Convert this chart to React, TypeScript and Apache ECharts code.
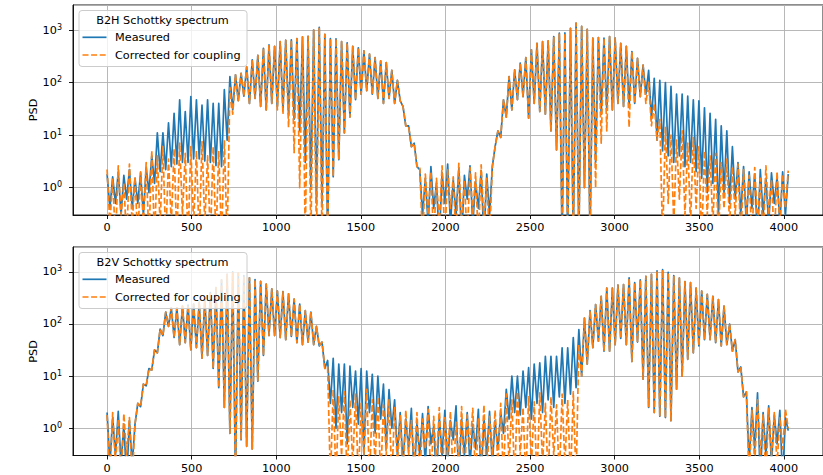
import React, { useEffect, useRef } from "react";
import * as echarts from "echarts";

// spacing (in x units) between successive read extrema
const X_STEP = 16.5;
const X_TICKS = [0, 500, 1000, 1500, 2000, 2500, 3000, 3500, 4000];
const Y_DECADES = [1, 10, 100, 1000];
const SERIES_NAMES = ["Measured", "Corrected for coupling"];
const PANEL_TITLES = ["B2H Schottky spectrum", "B2V Schottky spectrum"];
const Y_NAME = "PSD";

// B2H (top panel)
const topMeasured = [
  1.8, 0.4, 1.6, 0.5, 2.0, 0.3, 1.7, 0.6, 2.2, 0.4,
  1.5, 0.5, 1.9, 0.3, 2.4, 0.8, 4.0, 1.2, 11, 2.0,
  11, 2.2, 17, 2.5, 26, 2.8, 47, 3.0, 28, 3.0,
  54, 3.5, 47, 3.5, 37, 3.2, 47, 3.0, 40, 2.6,
  40, 2.5, 73, 8, 130, 30, 140, 45, 150, 55,
  200, 40, 270, 50, 330, 35, 450, 30, 520, 40,
  490, 35, 600, 30, 640, 25, 650, 20, 690, 12,
  740, 3, 760, 1, 1000, 0.5, 1130, 0.5, 830, 0.1,
  690, 1.6, 680, 3.4, 600, 11, 570, 22, 490, 47,
  460, 60, 400, 70, 350, 60, 300, 50, 260, 40,
  240, 50, 170, 40, 110, 45, 35, 15, 15, 6,
  7, 2.5, 2.2, 0.3, 1.5, 0.2, 2.5, 0.4, 1.2, 0.1,
  1.9, 0.5, 2.8, 0.2, 1.4, 0.3, 2.3, 0.1, 1.7, 0.6,
  2.6, 0.2, 1.3, 0.4, 2.1, 0.1, 1.8, 0.3, 2.5, 6,
  12, 9, 47, 22, 130, 30, 175, 47, 235, 54,
  300, 21, 420, 40, 560, 28, 600, 25, 620, 12,
  750, 5.2, 870, 0.1, 880, 0.1, 1080, 0.1, 1350, 0.1,
  1170, 1.0, 1030, 0.1, 700, 3, 720, 25, 700, 30,
  750, 30, 700, 40, 560, 35, 490, 35, 390, 40,
  290, 54, 215, 60, 170, 20, 120, 8, 110, 5,
  100, 4, 85, 3, 60, 4, 60, 2.5, 55, 3,
  47, 2, 45, 1.5, 33, 0.8, 26, 1.2, 20, 0.3,
  15, 0.8, 12, 0.5, 6, 0.6, 3.0, 0.3, 2.5, 0.2,
  2.0, 0.4, 1.8, 0.1, 2.2, 0.3, 1.5, 0.2, 1.9, 0.5,
  1.6, 0.2, 2.0, 0.3, 1.8,
];

const topCorrected = [
  2.2, 0.2, 1.5, 0.1, 2.6, 0.3, 1.2, 0.1, 2.8, 0.2,
  1.6, 0.1, 2.0, 0.2, 3.0, 0.1, 5, 0.1, 4, 0.2,
  6, 0.1, 3.5, 0.2, 5.5, 0.1, 7, 0.3, 4.5, 0.1,
  6, 0.2, 5, 0.1, 7.5, 0.2, 4, 0.1, 6, 0.1,
  5, 0.1, 8, 0.1, 80, 25, 140, 45, 150, 55,
  200, 40, 270, 50, 330, 35, 450, 30, 520, 40,
  490, 30, 600, 25, 640, 14, 650, 4.6, 690, 1.0,
  740, 0.1, 760, 0.1, 1000, 0.1, 1130, 0.1, 830, 0.1,
  690, 1.6, 680, 3.4, 600, 11, 570, 22, 490, 47,
  460, 60, 400, 70, 350, 60, 300, 50, 260, 40,
  240, 50, 170, 40, 110, 45, 35, 15, 15, 6,
  7, 2.5, 2.5, 0.1, 1.8, 0.3, 2.0, 0.1, 1.5, 0.2,
  2.6, 0.1, 2.2, 0.4, 1.6, 0.1, 2.9, 0.2, 1.4, 0.1,
  2.4, 0.3, 1.9, 0.1, 2.7, 0.2, 1.5, 0.1, 2.5, 6,
  12, 9, 47, 22, 130, 30, 175, 47, 235, 54,
  300, 21, 420, 40, 560, 28, 600, 25, 620, 12,
  750, 5.2, 870, 0.1, 880, 0.1, 1080, 0.1, 1350, 0.1,
  1170, 1.0, 1030, 0.1, 700, 1.0, 720, 7, 700, 12,
  750, 30, 700, 40, 560, 35, 490, 14, 390, 40,
  290, 54, 215, 40, 100, 15, 40, 8, 20, 0.1,
  14, 0.5, 10, 0.2, 8, 0.6, 12, 0.3, 7, 0.2,
  9, 0.4, 6, 0.1, 5, 0.3, 4, 0.2, 4.5, 0.1,
  3, 0.4, 3.5, 0.2, 2.5, 0.3, 2.8, 0.1, 2.2, 0.3,
  1.7, 0.1, 2.4, 0.2, 1.5, 0.1, 2.6, 0.3, 1.4, 0.1,
  2.0, 0.2, 1.8, 0.4, 2.1,
];

// B2V (bottom panel)
const bottomMeasured = [
  2.0, 0.2, 1.6, 0.3, 2.1, 0.2, 1.2, 0.1, 1.4, 0.2,
  1.2, 3.0, 2.6, 7, 6.5, 14, 13, 32, 28, 80,
  60, 170, 90, 205, 55, 205, 40, 220, 44, 230,
  32, 240, 35, 260, 22, 300, 25, 400, 14, 500,
  6, 700, 2.5, 900, 0.8, 1000, 0.1, 950, 0.6, 850,
  0.45, 770, 0.4, 710, 8, 660, 25, 580, 60, 470,
  60, 430, 55, 420, 50, 380, 58, 300, 44, 240,
  40, 180, 45, 170, 40, 90, 38, 45, 14, 20,
  3, 22, 1.0, 17, 2, 17, 0.5, 15.6, 2.5, 12.5,
  1.2, 14, 0.3, 12.5, 2, 10.8, 0.8, 10, 1.5, 7,
  0.4, 5.5, 1, 3.5, 0.3, 2.0, 0.2, 1.5, 0.4, 2.4,
  0.1, 1.3, 0.3, 1.9, 0.2, 2.6, 0.5, 1.1, 0.1, 1.7,
  0.3, 2.2, 0.2, 1.4, 0.6, 2.7, 0.1, 1.5, 0.3, 2.0,
  0.2, 1.2, 0.4, 2.3, 0.1, 1.6, 0.3, 2.1, 0.2, 1.4,
  0.4, 2, 0.8, 5.6, 1.5, 10, 2, 10, 1.8, 12.5,
  2.5, 14.5, 1.5, 17, 3, 18, 2, 24, 3.5, 24,
  2.5, 24, 4, 35, 3, 35, 4.5, 55, 6, 78,
  10, 130, 17, 180, 35, 235, 47, 340, 30, 490,
  30, 490, 40, 560, 53, 570, 40, 770, 19, 620,
  45, 700, 8.7, 820, 2.5, 900, 2, 1050, 1.7, 1100,
  1.6, 980, 1.4, 850, 5.6, 760, 10, 650, 21, 620,
  28, 490, 38, 430, 50, 370, 50, 340, 44, 295,
  38, 220, 40, 100, 30, 50, 12, 15, 4, 5,
  0.2, 2.5, 0.4, 4.8, 0.1, 2.0, 0.3, 2.7, 0.2, 1.8,
  0.5, 2.2, 0.1, 1.6, 0.9,
];

const bottomCorrected = [
  1.8, 0.1, 2.0, 0.2, 1.5, 0.1, 1.9, 0.3, 1.6, 0.1,
  1.2, 3.0, 2.6, 7, 6.5, 14, 13, 32, 28, 80,
  60, 170, 90, 205, 55, 205, 40, 220, 44, 230,
  32, 240, 35, 260, 22, 300, 25, 400, 14, 500,
  6, 700, 2.5, 900, 0.8, 1000, 0.1, 950, 0.6, 850,
  0.45, 770, 0.4, 710, 8, 660, 25, 580, 60, 470,
  60, 430, 55, 420, 50, 380, 58, 300, 44, 240,
  40, 180, 45, 170, 40, 90, 38, 45, 14, 15,
  0.1, 5.5, 0.1, 4, 0.3, 5, 0.1, 3.5, 0.2, 4.5,
  0.1, 3, 0.3, 5.6, 0.1, 3.5, 0.2, 4, 0.1, 2.8,
  0.3, 3.5, 0.1, 2.5, 0.2, 1.8, 0.1, 2.2, 0.3, 1.4,
  0.2, 2.0, 0.1, 1.5, 0.4, 2.3, 0.1, 1.7, 0.2, 2.5,
  0.1, 1.6, 0.3, 2.1, 0.1, 1.3, 0.2, 2.6, 0.1, 1.8,
  0.4, 2.4, 0.1, 1.5, 0.2, 2.8, 0.1, 1.7, 0.3, 2.2,
  0.2, 3, 0.1, 4.5, 0.2, 3.5, 0.1, 5, 0.3, 2.5,
  0.1, 4, 0.2, 3.2, 0.1, 4.8, 0.2, 3, 0.1, 4,
  0.3, 2.8, 0.1, 4.5, 0.2, 3.5, 0.1, 5, 0.1, 40,
  10, 130, 17, 180, 35, 235, 47, 340, 30, 490,
  30, 490, 40, 560, 53, 570, 40, 770, 19, 620,
  45, 700, 8.7, 820, 2.5, 900, 2, 1050, 1.7, 1100,
  1.6, 980, 1.4, 850, 5.6, 760, 10, 650, 21, 620,
  28, 490, 38, 430, 50, 370, 50, 340, 44, 295,
  38, 220, 40, 100, 30, 50, 12, 15, 4, 5,
  0.1, 2.2, 0.2, 3.5, 0.3, 1.8, 0.1, 2.4, 0.3, 2.0,
  0.2, 1.6, 0.4, 2.3, 1.0,
];

const FONT = "DejaVu Sans";
const FS = 11.25;
const BLUE = "#1f77b4";
const ORANGE = "#ff7f0e";
const GRID_COLOR = "#b0b0b0";
const DASH = [6, 2.6];

const toXY = (arr: number[]) => arr.map((v, i) => [i * X_STEP, v]);

export default function App() {
  const ref = useRef<HTMLDivElement>(null);

  useEffect(() => {
    document.body.style.margin = "0";
    if (!ref.current) return;
    const chart = echarts.init(ref.current, undefined, { renderer: "svg" });

    const grids = [
      { left: 73, top: 5, width: 752, height: 210 },
      { left: 73, top: 247, width: 752, height: 209 },
    ];

    const xAxis = grids.map((_, gi) => ({
      type: "value",
      gridIndex: gi,
      min: -201.5,
      max: 4231.5,
      splitNumber: 9,
      axisLine: { show: true, onZero: false, lineStyle: { color: "#000", width: 0.9 } },
      axisTick: { show: true, inside: false, length: 4, lineStyle: { color: "#000", width: 0.9 } },
      axisLabel: {
        show: true,
        margin: 5.5,
        fontFamily: FONT,
        fontSize: FS,
        lineHeight: 14,
        color: "#000",
        showMinLabel: false,
        showMaxLabel: false,
        formatter: (v: number) => (X_TICKS.includes(v) ? String(v) : ""),
      },
      splitLine: { show: true, lineStyle: { color: GRID_COLOR, width: 0.9 } },
    }));

    const yAxis = grids.map((_, gi) => ({
      type: "log",
      logBase: 10,
      gridIndex: gi,
      min: 0.3,
      max: 3000,
      axisLine: { show: true, onZero: false, lineStyle: { color: "#000", width: 0.9 } },
      axisTick: { show: true, inside: false, length: 4, lineStyle: { color: "#000", width: 0.9 } },
      axisLabel: {
        show: true,
        margin: 11,
        showMinLabel: false,
        showMaxLabel: false,
        formatter: (v: number) => {
          const found = Y_DECADES.find((d) => Math.abs(d - v) / d < 1e-6);
          if (found === undefined) return "";
          return `{b|10}{s|${Math.round(Math.log10(found))}}`;
        },
        rich: {
          b: { fontFamily: FONT, fontSize: FS, lineHeight: 14, color: "#000", verticalAlign: "middle" },
          s: { fontFamily: FONT, fontSize: 8, lineHeight: 9, color: "#000", verticalAlign: "top" },
        },
      },
      splitLine: { show: true, lineStyle: { color: GRID_COLOR, width: 0.9 } },
    }));

    const panels = [
      [topMeasured, topCorrected],
      [bottomMeasured, bottomCorrected],
    ];

    const series: any[] = [];
    panels.forEach((pair, gi) => {
      series.push({
        type: "line",
        name: SERIES_NAMES[0],
        xAxisIndex: gi,
        yAxisIndex: gi,
        data: toXY(pair[0]),
        symbol: "none",
        showSymbol: false,
        clip: true,
        silent: true,
        z: 2,
        lineStyle: { color: BLUE, width: 1.7, join: "round" },
        itemStyle: { color: BLUE },
      });
      series.push({
        type: "line",
        name: SERIES_NAMES[1],
        xAxisIndex: gi,
        yAxisIndex: gi,
        data: toXY(pair[1]),
        symbol: "none",
        showSymbol: false,
        clip: true,
        silent: true,
        z: 2,
        lineStyle: { color: ORANGE, width: 1.7, type: DASH, join: "round" },
        itemStyle: { color: ORANGE },
      });
    });

    // legend entries: text via the legend component, handle lines drawn as graphics
    const legend = grids.map((g) => ({
      show: true,
      orient: "vertical",
      left: 82,
      top: g.top + 25.3,
      padding: 0,
      itemWidth: 24,
      itemHeight: 14,
      itemGap: 3.7,
      selectedMode: false,
      icon: "rect",
      itemStyle: { opacity: 0 },
      lineStyle: { opacity: 0 },
      data: SERIES_NAMES,
      textStyle: { fontFamily: FONT, fontSize: FS, lineHeight: 14, color: "#000", padding: [0, 0, 0, 4] },
      z: 4,
    }));

    const graphic: any[] = [];
    grids.forEach((g, gi) => {
      graphic.push({
        type: "text",
        x: 33,
        y: g.top + g.height / 2,
        rotation: Math.PI / 2,
        style: {
          text: Y_NAME,
          fontFamily: FONT,
          fontSize: FS,
          fill: "#000",
          align: "center",
          verticalAlign: "middle",
        },
        silent: true,
      });
      graphic.push({
        type: "rect",
        shape: { x: 79, y: g.top + 5.5, width: 168, height: 56, r: 3 },
        style: { fill: "rgba(255,255,255,0.8)", stroke: "#cccccc", lineWidth: 1 },
        z: 3,
        silent: true,
      });
      graphic.push({
        type: "text",
        x: 162.5,
        y: g.top + 15,
        style: {
          text: PANEL_TITLES[gi],
          fontFamily: FONT,
          fontSize: FS,
          fill: "#000",
          align: "center",
          verticalAlign: "middle",
        },
        z: 5,
        silent: true,
      });
      graphic.push({
        type: "line",
        shape: { x1: 82.5, y1: g.top + 32.3, x2: 106.5, y2: g.top + 32.3 },
        style: { stroke: BLUE, lineWidth: 1.7 },
        z: 5,
        silent: true,
      });
      graphic.push({
        type: "line",
        shape: { x1: 82.5, y1: g.top + 50, x2: 106.5, y2: g.top + 50 },
        style: { stroke: ORANGE, lineWidth: 1.7, lineDash: DASH },
        z: 5,
        silent: true,
      });
    });

    chart.setOption({
      animation: false,
      grid: grids.map((g) => ({ ...g, show: true, borderColor: "#000", borderWidth: 0.9, backgroundColor: "transparent" })),
      xAxis,
      yAxis,
      legend,
      series,
      graphic,
    });

    return () => chart.dispose();
  }, []);

  return <div ref={ref} style={{ width: 823, height: 475 }} />;
}
